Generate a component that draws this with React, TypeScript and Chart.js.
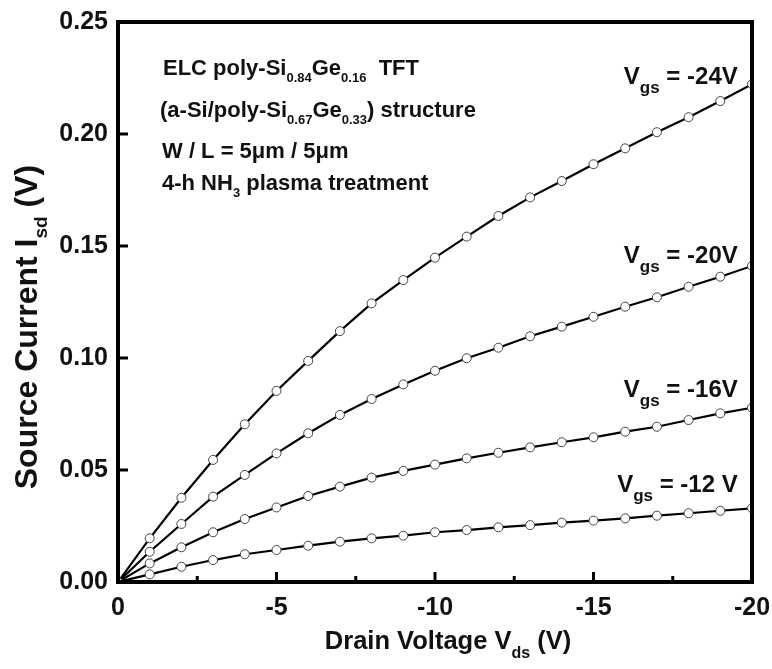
import React, { useEffect, useRef } from "react";
import { Chart, registerables } from "chart.js";

Chart.register(...registerables);

// ---- data ----
const drainVoltage = [0, -1, -2, -3, -4, -5, -6, -7, -8, -9, -10, -11, -12, -13, -14, -15, -16, -17, -18, -19, -20];
const iVgs24 = [0, 0.0195, 0.0376, 0.0545, 0.0704, 0.0853, 0.0987, 0.1120, 0.1244, 0.1348, 0.1448, 0.1542, 0.1634, 0.1717, 0.1790, 0.1865, 0.1936, 0.2008, 0.2075, 0.2147, 0.2222];
const iVgs20 = [0, 0.0135, 0.0259, 0.0381, 0.0478, 0.0574, 0.0664, 0.0746, 0.0817, 0.0882, 0.0943, 0.0999, 0.1046, 0.1097, 0.1140, 0.1184, 0.1229, 0.1271, 0.1318, 0.1363, 0.1411];
const iVgs16 = [0, 0.0083, 0.0155, 0.0222, 0.0281, 0.0333, 0.0384, 0.0426, 0.0466, 0.0496, 0.0524, 0.0552, 0.0577, 0.0601, 0.0624, 0.0646, 0.0671, 0.0693, 0.0723, 0.0753, 0.0778];
const iVgs12 = [0, 0.0034, 0.0068, 0.0098, 0.0124, 0.0143, 0.0162, 0.0180, 0.0195, 0.0207, 0.0222, 0.0232, 0.0244, 0.0254, 0.0265, 0.0274, 0.0284, 0.0296, 0.0307, 0.0318, 0.0329];
const seriesValues = [iVgs24, iVgs20, iVgs16, iVgs12];
const vgsLabels = ["-24V", "-20V", "-16V", "-12 V"];
const xTickValues = [0, -5, -10, -15, -20];
const xMinorTickValues = [-2.5, -7.5, -12.5, -17.5];
const yTickValues = [0, 0.05, 0.1, 0.15, 0.2, 0.25];

const FONT = '"Liberation Sans", Arial, Helvetica, sans-serif';
const INK = "#111";

type Part = [string, boolean];

function drawRich(
  ctx: CanvasRenderingContext2D,
  parts: Part[],
  x: number,
  y: number,
  size: number,
  subSize: number,
  subDy: number,
  align: "left" | "right" | "center"
) {
  const mainFont = `bold ${size}px ${FONT}`;
  const subFont = `bold ${subSize}px ${FONT}`;
  let total = 0;
  const widths: number[] = [];
  for (const [t, sub] of parts) {
    ctx.font = sub ? subFont : mainFont;
    const w = ctx.measureText(t).width;
    widths.push(w);
    total += w;
  }
  let cx = align === "right" ? x - total : align === "center" ? x - total / 2 : x;
  ctx.textAlign = "left";
  ctx.textBaseline = "alphabetic";
  ctx.fillStyle = INK;
  parts.forEach(([t, sub], i) => {
    ctx.font = sub ? subFont : mainFont;
    ctx.fillText(t, cx, sub ? y + subDy : y);
    cx += widths[i];
  });
}

const decorPlugin = {
  id: "decor",
  afterDatasetsDraw(chart: any) {
    const ctx: CanvasRenderingContext2D = chart.ctx;
    const { left, right, top, bottom } = chart.chartArea;
    const xs = chart.scales.x;
    const ys = chart.scales.y;
    ctx.save();

    // frame
    ctx.strokeStyle = "#000";
    ctx.lineWidth = 4;
    ctx.strokeRect(left, top, right - left, bottom - top);

    // ticks (inward)
    ctx.lineWidth = 3;
    ctx.beginPath();
    xTickValues.forEach((v) => {
      const px = xs.getPixelForValue(v);
      ctx.moveTo(px, bottom);
      ctx.lineTo(px, bottom - 10);
    });
    xMinorTickValues.forEach((v) => {
      const px = xs.getPixelForValue(v);
      ctx.moveTo(px, bottom);
      ctx.lineTo(px, bottom - 6);
    });
    yTickValues.forEach((v) => {
      const py = ys.getPixelForValue(v);
      ctx.moveTo(left, py);
      ctx.lineTo(left + 10, py);
    });
    ctx.stroke();

    // annotation block
    const ax = left + 44;
    drawRich(ctx, [["ELC poly-Si", false], ["0.84", true], ["Ge", false], ["0.16", true], ["  TFT", false]], ax + 1, top + 53, 22, 13, 7, "left");
    drawRich(ctx, [["(a-Si/poly-Si", false], ["0.67", true], ["Ge", false], ["0.33", true], [") structure", false]], ax - 2, top + 95, 22, 13, 7, "left");
    drawRich(ctx, [["W / L = 5\u03bcm / 5\u03bcm", false]], ax, top + 136, 22, 13, 7, "left");
    drawRich(ctx, [["4-h NH", false], ["3", true], [" plasma treatment", false]], ax, top + 168, 22, 13, 7, "left");

    // Vgs labels (anchored in data units, right-aligned)
    const labelPos = [
      [-19.55, 0.2223],
      [-19.55, 0.1424],
      [-19.55, 0.0826],
      [-19.55, 0.0402],
    ];
    vgsLabels.forEach((lab, i) => {
      const px = xs.getPixelForValue(labelPos[i][0]);
      const py = ys.getPixelForValue(labelPos[i][1]);
      drawRich(ctx, [["V", false], ["gs", true], [" = " + lab, false]], px, py, 24, 17, 9, "right");
    });

    // axis titles
    const cxTitle = (left + right) / 2 + 13;
    drawRich(ctx, [["Drain Voltage V", false], ["ds", true], [" (V)", false]], cxTitle, 649, 25.5, 16, 9, "center");

    ctx.save();
    ctx.translate(37, 327);
    ctx.rotate(-Math.PI / 2);
    drawRich(ctx, [["Source Current I", false], ["sd", true], [" (V)", false]], 0, 0, 32, 19, 10, "center");
    ctx.restore();

    ctx.restore();
  },
};

export default function App() {
  const canvasRef = useRef<HTMLCanvasElement | null>(null);

  useEffect(() => {
    if (!canvasRef.current) return;
    const datasets = seriesValues.map((vals, i) => ({
      label: "Vgs = " + vgsLabels[i],
      data: drainVoltage.map((x, j) => ({ x, y: vals[j] })),
      showLine: true,
      borderColor: "#000",
      borderWidth: 2.2,
      pointRadius: 4.5,
      pointBackgroundColor: "#fff",
      pointBorderColor: "#444",
      pointBorderWidth: 1,
      tension: 0,
    }));

    const chart = new Chart(canvasRef.current, {
      type: "scatter",
      data: { datasets },
      plugins: [decorPlugin],
      options: {
        animation: false,
        responsive: false,
        devicePixelRatio: 1,
        layout: { padding: { top: 22, right: 20, left: 0, bottom: 0 } },
        plugins: { legend: { display: false }, tooltip: { enabled: false } },
        scales: {
          x: {
            type: "linear",
            reverse: true,
            min: -20,
            max: 0,
            grid: { display: false, drawTicks: false },
            border: { display: false },
            afterBuildTicks: (s: any) => {
              s.ticks = xTickValues.map((v) => ({ value: v }));
            },
            afterFit: (s: any) => {
              s.height = 87;
              s.paddingLeft = 0;
              s.paddingRight = 0;
            },
            ticks: {
              padding: 11,
              color: INK,
              font: { family: FONT, size: 25, weight: "bold" },
              callback: (v: any) => String(v),
              maxRotation: 0,
              autoSkip: false,
            },
          },
          y: {
            type: "linear",
            min: 0,
            max: 0.25,
            grid: { display: false, drawTicks: false },
            border: { display: false },
            afterBuildTicks: (s: any) => {
              s.ticks = yTickValues.map((v) => ({ value: v }));
            },
            afterFit: (s: any) => {
              s.width = 118;
              s.paddingTop = 0;
              s.paddingBottom = 0;
            },
            ticks: {
              padding: 10,
              color: INK,
              font: { family: FONT, size: 25, weight: "bold" },
              callback: (v: any) => Number(v).toFixed(2),
              autoSkip: false,
            },
          },
        },
      },
    } as any);
    return () => chart.destroy();
  }, []);

  return (
    <div style={{ position: "absolute", left: 0, top: 0, width: 772, height: 669, background: "#fff" }}>
      <canvas ref={canvasRef} width={772} height={669} style={{ display: "block" }} />
    </div>
  );
}
